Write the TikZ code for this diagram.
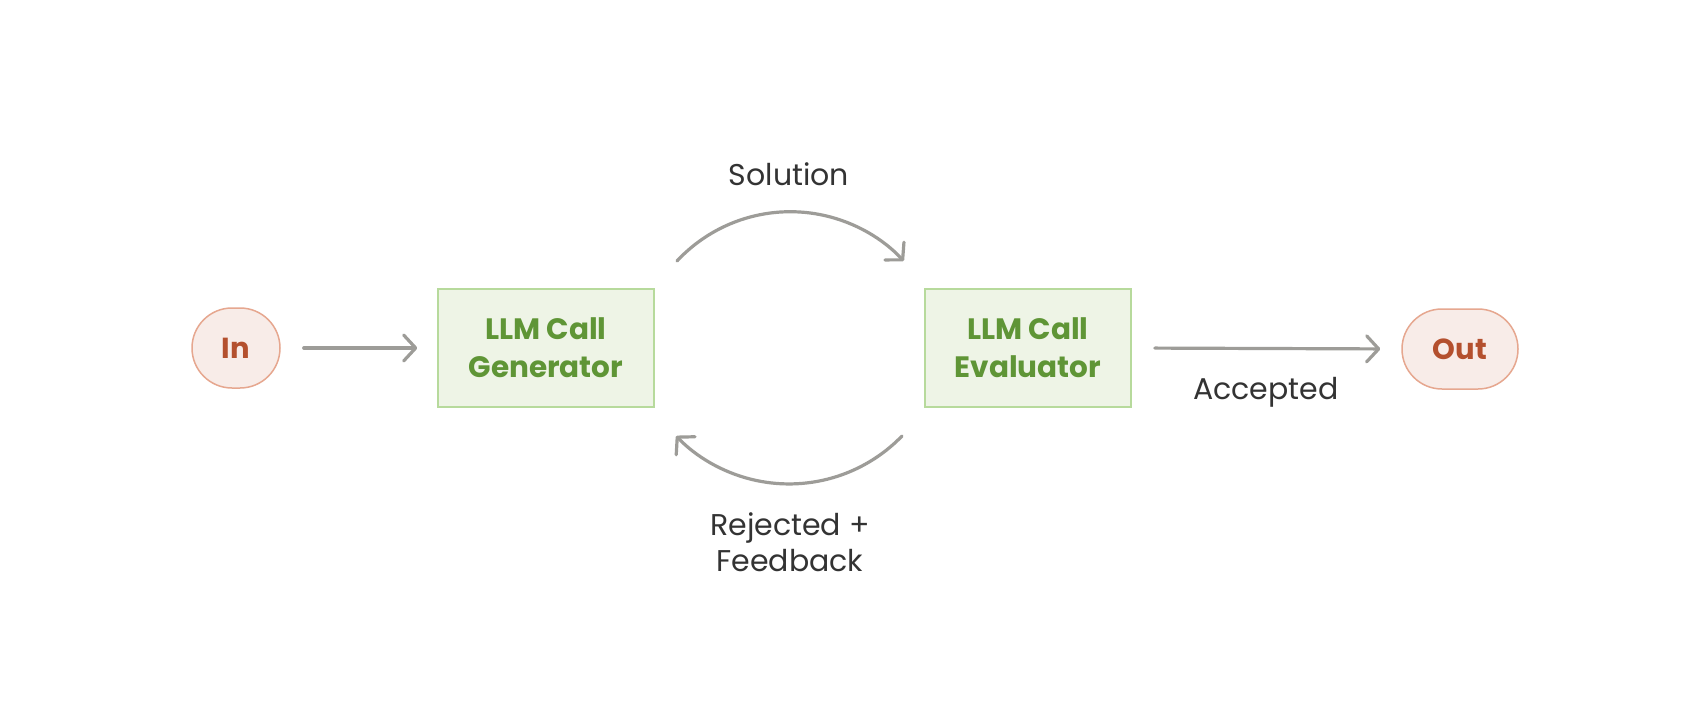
\documentclass[tikz,border=0pt]{standalone}
\usepackage{fontspec}
\setmainfont{Poppins}
\usetikzlibrary{arrows.meta}
\definecolor{termfill}{HTML}{F8ECE8}
\definecolor{termline}{HTML}{E6A78F}
\definecolor{termtext}{HTML}{B4502E}
\definecolor{llmfill}{HTML}{EEF4E6}
\definecolor{llmline}{HTML}{B7DA9C}
\definecolor{llmtext}{HTML}{5F9536}
\definecolor{flow}{HTML}{9D9C98}
\definecolor{labeltext}{HTML}{333333}
\begin{document}
\begin{tikzpicture}[x=1pt,y=-1pt,
  term/.style={draw=termline, fill=termfill, line width=1.5pt, rounded corners=40pt,
    minimum height=80pt, inner sep=0pt, text=termtext,
    font=\fontsize{29}{32}\selectfont\bfseries},
  llm/.style={draw=llmline, fill=llmfill, line width=1.5pt, minimum height=118pt,
    inner sep=0pt, align=center, text=llmtext,
    font=\fontsize{29.5}{38}\selectfont\bfseries},
  flowline/.style={draw=flow, line width=3.2pt, line cap=round,
    -{Straight Barb[length=12pt,width=26pt,line cap=round,line join=round]}},
  lbl/.style={text=labeltext, align=center, font=\fontsize{30}{36}\selectfont}]
  \useasboundingbox (0,0) rectangle (1700,704);
  \fill[white] (0,0) rectangle (1700,704);

  % terminals and the two LLM calls
  \node[term, minimum width=88pt]  (in)  at (236,348) {In};
  \node[llm,  minimum width=216pt] (gen) at (546,348) {LLM Call\\Generator};
  \node[llm,  minimum width=206pt] (eva) at (1028,348) {LLM Call\\Evaluator};
  \node[term, minimum width=116pt] (out) at (1460,349) {Out};

  % straight flow
  \draw[flowline, shorten <=23pt, shorten >=20pt] (in.east) -- (gen.west);
  \draw[flowline, shorten <=23pt, shorten >=21pt] (eva.east) -- (out.west);

  % loop between generator and evaluator
  \coordinate (solA) at (677,261);
  \coordinate (fbA)  at (902,436);
  \draw[flowline] (solA) arc[start angle=-137, end angle=-43, radius=155];
  \draw[flowline] (fbA)  arc[start angle=44, end angle=136, radius=157];

  % labels
  \node[lbl] (sol) at (789,174) {Solution};
  \node[lbl] (acc) at (1266,392) {Accepted};
  \node[lbl] (rej) at (790,542) {Rejected +\\Feedback};
\end{tikzpicture}
\end{document}
